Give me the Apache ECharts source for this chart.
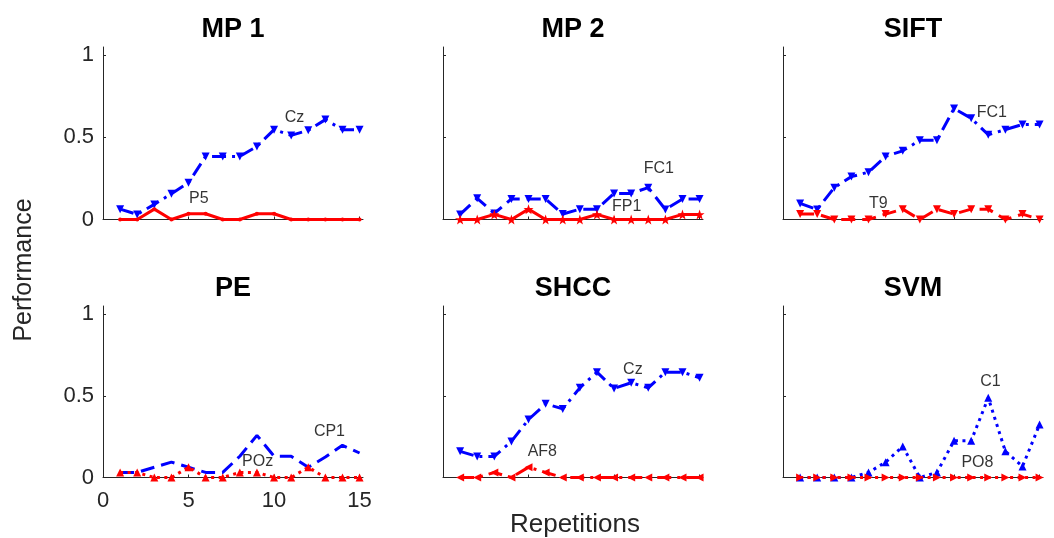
<!DOCTYPE html>
<html>
<head>
<meta charset="utf-8">
<script src="https://cdn.jsdelivr.net/npm/echarts@6/dist/echarts.min.js"></script>
<style>
html,body{margin:0;padding:0;background:#fff;}
#chart{width:1054px;height:538px;}
</style>
</head>
<body>
<div id="chart"></div>
<script>
// ---- data ----
const repetitions = [1,2,3,4,5,6,7,8,9,10,11,12,13,14,15];
const xTicks = [0,5,10,15];
const yTicks = [0,0.5,1];
const panelTitles = ['MP 1','MP 2','SIFT','PE','SHCC','SVM'];

const mp1Cz   = [0.063,0.031,0.092,0.157,0.224,0.384,0.384,0.384,0.445,0.547,0.512,0.543,0.608,0.547,0.547];
const mp1P5   = [0,0,0.063,0,0.035,0.035,0,0,0.035,0.035,0,0,0,0,0];
const mp2FC1  = [0.031,0.129,0.037,0.125,0.125,0.125,0.033,0.063,0.063,0.159,0.159,0.194,0.061,0.125,0.125];
const mp2FP1  = [0,0,0.031,0,0.063,0,0,0,0.031,0,0,0,0,0.031,0.031];
const siftFC1 = [0.098,0.061,0.194,0.261,0.288,0.384,0.418,0.482,0.482,0.676,0.616,0.516,0.547,0.578,0.578];
const siftT9  = [0.033,0.033,0,0,0,0.033,0.063,0,0.063,0.033,0.063,0.063,0,0.033,0];
const peCP1   = [0.031,0.031,0.063,0.094,0.063,0.031,0.031,0.13,0.258,0.13,0.13,0.063,0.125,0.197,0.15];
const pePOz   = [0.031,0.031,0,0,0.063,0,0,0.031,0.031,0,0,0.063,0,0,0];
const shccCz  = [0.16,0.129,0.129,0.221,0.355,0.451,0.42,0.549,0.645,0.545,0.58,0.549,0.645,0.645,0.611];
const shccAF8 = [0,0,0.031,0,0.063,0.031,0,0,0,0,0,0,0,0,0];
const svmC1   = [0,0,0,0,0.031,0.094,0.19,0,0.031,0.225,0.225,0.488,0.16,0.068,0.324];
const svmPO8  = [0,0,0,0,0,0,0,0,0,0,0,0,0,0,0];

const channelNames = [['Cz','P5'],['FC1','FP1'],['FC1','T9'],['CP1','POz'],['Cz','AF8'],['C1','PO8']];
// annotation anchor points (data coordinates)
const labelSpots = [
  [[10.6,0.62],[5.0,0.128]],
  [[11.7,0.31],[9.85,0.077]],
  [[11.3,0.649],[5.0,0.098]],
  [[12.3,0.283],[8.1,0.098]],
  [[10.5,0.662],[4.92,0.156]],
  [[11.5,0.59],[10.4,0.089]]
];
const blueSeries = [mp1Cz, mp2FC1, siftFC1, peCP1, shccCz, svmC1];
const redSeries  = [mp1P5, mp2FP1, siftT9, pePOz, shccAF8, svmPO8];

// ---- styles ----
const FONT = '"Liberation Sans", Arial, Helvetica, sans-serif';
const AX = '#262626';
const BLUE = '#0000ff', RED = '#ff0000';
const DASH = [14,7], DASHDOT = [14,6,3,6], DOT = [3,4.5];
const STAR = 'path://M0,-10L2.35,-3.24L9.51,-3.09L3.8,1.24L5.88,8.09L0,4L-5.88,8.09L-3.8,1.24L-9.51,-3.09L-2.35,-3.24Z';
const styleSpec = [
  {b:{dash:DASHDOT, sym:'triangle', rot:180, size:8}, r:{dash:'solid', sym:'circle', rot:0, size:4}},
  {b:{dash:DASH, sym:'triangle', rot:180, size:8}, r:{dash:'solid', sym:STAR, rot:0, size:10}},
  {b:{dash:DASHDOT, sym:'triangle', rot:180, size:8}, r:{dash:DASH, sym:'triangle', rot:180, size:8}},
  {b:{dash:DASH, sym:'none', rot:0, size:0}, r:{dash:DOT, sym:'triangle', rot:0, size:8}},
  {b:{dash:DASHDOT, sym:'triangle', rot:180, size:8}, r:{dash:DASHDOT, sym:'triangle', rot:90, size:8}},
  {b:{dash:DOT, sym:'triangle', rot:0, size:8}, r:{dash:DOT, sym:'triangle', rot:-90, size:8}}
];
const lefts = [103,443,783], tops = [47,306], heights = [172.5,171.5];
const GW = 260;

const grids = [], xAxes = [], yAxes = [], series = [], graphics = [];
for (let i = 0; i < 6; i++) {
  const col = i % 3, row = Math.floor(i / 3);
  grids.push({left: lefts[col], top: tops[row], width: GW, height: heights[row]});
  xAxes.push({
    type:'value', gridIndex:i, min:0, max:15.2,
    axisLine:{show:true, onZero:false, lineStyle:{color:AX, width:1}},
    axisTick:{show:true, inside:true, length:3, customValues:xTicks, lineStyle:{color:AX}},
    axisLabel:{show: i === 3, customValues:xTicks, margin:12, color:AX, fontSize:22, fontFamily:FONT},
    splitLine:{show:false}
  });
  yAxes.push({
    type:'value', gridIndex:i, min:0, max:1.05,
    axisLine:{show:true, onZero:false, lineStyle:{color:AX, width:1}},
    axisTick:{show:true, inside:true, length:3, customValues:yTicks, lineStyle:{color:AX}},
    axisLabel:{show: col === 0, customValues:yTicks, margin:9, color:AX, fontSize:22, fontFamily:FONT},
    splitLine:{show:false}
  });
  const sp = styleSpec[i];
  const mk = (vals, st, color) => ({
    type:'line', xAxisIndex:i, yAxisIndex:i, silent:true, animation:false,
    data: repetitions.map((r, k) => [r, vals[k]]),
    symbol: st.sym, symbolSize: st.size, symbolRotate: st.rot, showSymbol: st.sym !== 'none',
    lineStyle:{color, width:3, type: st.dash},
    itemStyle:{color, borderWidth:0}
  });
  series.push(mk(blueSeries[i], sp.b, BLUE));
  series.push(mk(redSeries[i], sp.r, RED));
  series.push({
    type:'scatter', xAxisIndex:i, yAxisIndex:i, silent:true, animation:false,
    symbolSize:1, itemStyle:{color:'rgba(0,0,0,0)'},
    data: labelSpots[i].map((p, k) => ({name: channelNames[i][k], value: p})),
    label:{show:true, position:'right', distance:0, formatter:'{b}', color:'#000', fontSize:16, fontFamily:FONT},
    z: 5
  });
  graphics.push({
    type:'text', x: lefts[col] + GW/2, y: row === 0 ? 30 : 289,
    style:{text: panelTitles[i], fontSize:27, fontWeight:'bold', fontFamily:FONT, fill:'#000', align:'center', verticalAlign:'middle'}
  });
}
graphics.push({
  type:'text', x:24, y:270, rotation: Math.PI/2,
  style:{text:'Performance', fontSize:25, fontFamily:FONT, fill:AX, align:'center', verticalAlign:'middle'}
});
graphics.push({
  type:'text', x:575, y:525,
  style:{text:'Repetitions', fontSize:26, fontFamily:FONT, fill:AX, align:'center', verticalAlign:'middle'}
});

const chart = echarts.init(document.getElementById('chart'), null, {renderer:'canvas'});
chart.setOption({
  animation:false,
  backgroundColor:'#fff',
  grid: grids, xAxis: xAxes, yAxis: yAxes, series: series, graphic: graphics
});
</script>
</body>
</html>
